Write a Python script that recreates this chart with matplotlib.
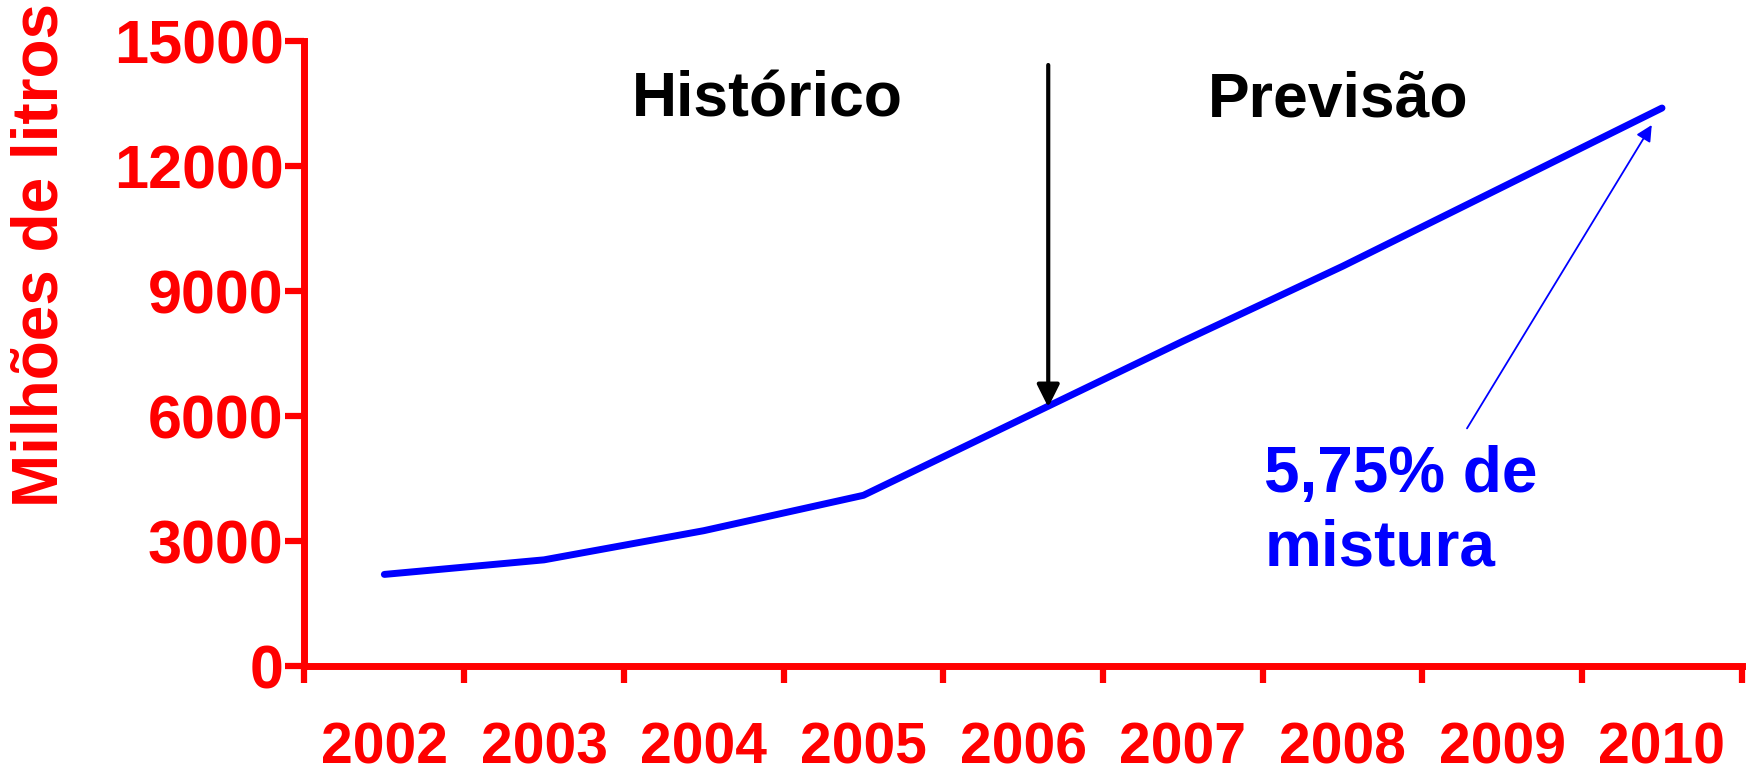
import matplotlib.pyplot as plt
import numpy as np

plt.rcParams['font.family'] = ['Liberation Sans', 'DejaVu Sans']

anos = ['2002', '2003', '2004', '2005', '2006', '2007', '2008', '2009', '2010']
litros = [2200, 2550, 3250, 4100, 5950, 7800, 9600, 11500, 13400]
yticks = [0, 3000, 6000, 9000, 12000, 15000]

vermelho = '#FF0000'
azul = '#0000FF'

fig = plt.figure(figsize=(17.55, 7.74), dpi=100)
ax = fig.add_axes([0.1735, 0.1395, 0.819, 0.807])

x = np.arange(len(anos))
ax.plot(x, litros, color=azul, lw=5, solid_capstyle='round', solid_joinstyle='round', clip_on=False)

ax.set_xlim(-0.5, len(anos) - 0.5)
ax.set_ylim(0, 15000)

# ticks nas fronteiras, rotulos no centro
ax.set_xticks(np.arange(len(anos) + 1) - 0.5)
ax.set_xticklabels([])
ax.set_xticks(x, minor=True)
ax.set_xticklabels(anos, minor=True)
ax.tick_params(axis='x', which='major', direction='out', length=12, width=4.5, color=vermelho)
ax.tick_params(axis='x', which='minor', length=0, pad=40, labelsize=41, labelcolor=vermelho)
for t in ax.get_xticklabels(minor=True):
    t.set_fontweight('bold')

ax.set_yticks(yticks)
ax.set_yticklabels([str(v) for v in yticks], fontsize=44, fontweight='bold', color=vermelho)
ax.tick_params(axis='y', direction='out', length=14, width=4.5, color=vermelho, pad=1)

for s in ['top', 'right']:
    ax.spines[s].set_visible(False)
for s in ['left', 'bottom']:
    ax.spines[s].set_color(vermelho)
    ax.spines[s].set_linewidth(5)

fig.text(0.0228, 0.6705, 'Milhões de litros', fontsize=46, fontweight='bold', color=vermelho,
         rotation=90, ha='center', va='center')

# divisao historico / previsao
ax.annotate('', xy=(4.157, 6150), xytext=(4.157, 14500),
            arrowprops=dict(arrowstyle='-|>', color='black', lw=3, mutation_scale=34))
ax.text(2.4, 13600, 'Histórico', fontsize=45, fontweight='bold', ha='center', va='center')
ax.text(5.97, 13600, 'Previsão', fontsize=45, fontweight='bold', ha='center', va='center')

# nota da mistura
ax.annotate('', xy=(7.945, 13050), xytext=(6.77, 5650),
            arrowprops=dict(arrowstyle='-|>', color=azul, lw=1.3, mutation_scale=24))
ax.text(5.51, 5300, '5,75% de\nmistura', fontsize=46, fontweight='bold', color=azul,
        ha='left', va='top', linespacing=1.28)

fig.savefig('out.png', dpi=100)
